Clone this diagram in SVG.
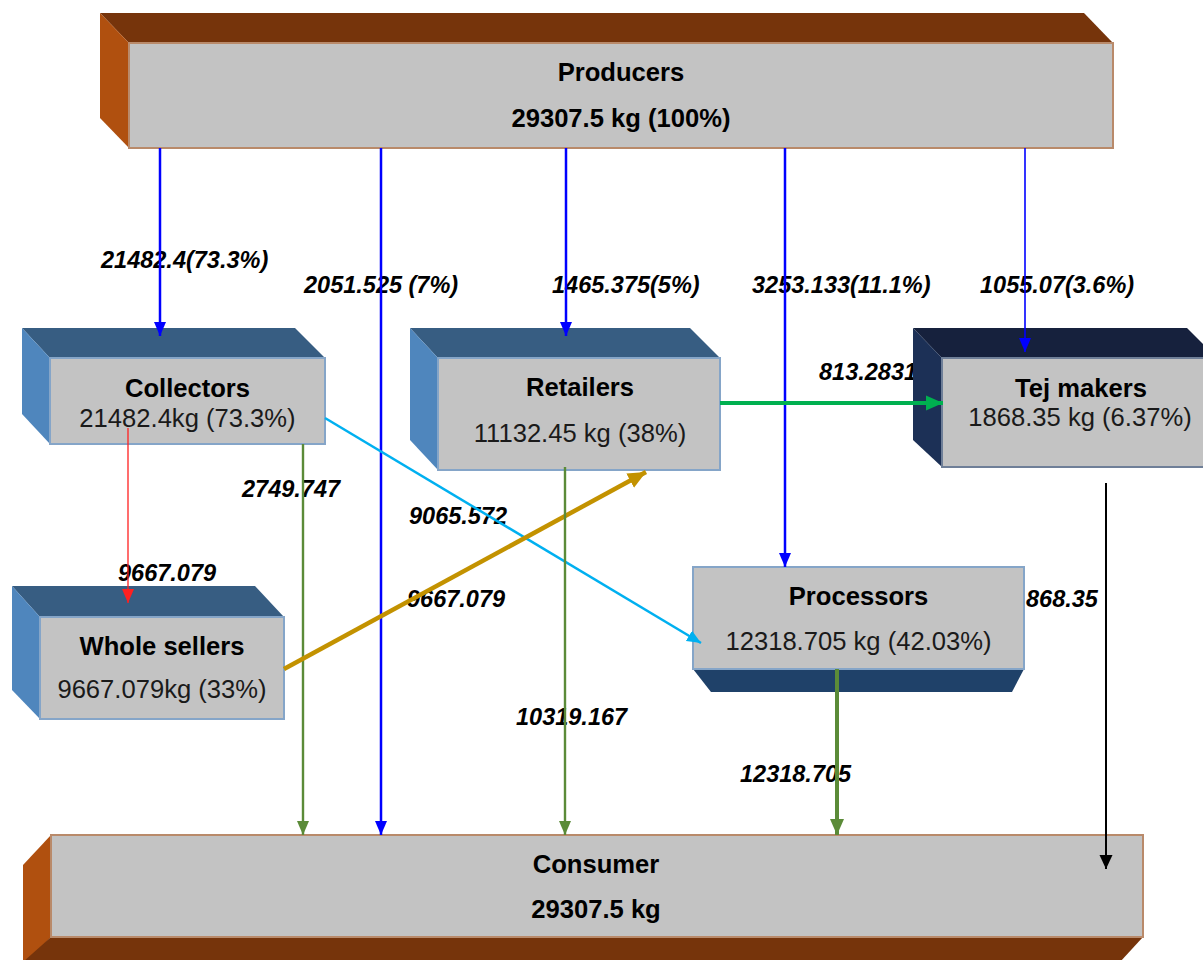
<svg xmlns="http://www.w3.org/2000/svg" width="1203" height="960" viewBox="0 0 1203 960">
<style>
.bg{fill:#ffffff}
.face{fill:#c3c3c3;stroke:#85a5c8;stroke-width:2}
.bface{fill:#c3c3c3;stroke:#b98a6a;stroke-width:2}
.tface{fill:#c3c3c3;stroke:#6f7f98;stroke-width:2}
.btop{fill:#375d82}
.bside{fill:#4f86bd}
.ntop{fill:#16213d}
.nside{fill:#1c3056}
.brtop{fill:#76340b}
.brside{fill:#b0500f}
.pbot{fill:#1f4169}
.title{font-family:"Liberation Sans",Arial,sans-serif;font-weight:bold;font-size:25.6px;fill:#000;text-anchor:middle}
.val{font-family:"Liberation Sans",Arial,sans-serif;font-size:25.6px;fill:#1a1a1a;text-anchor:middle}
.lbl{font-family:"Liberation Sans",Arial,sans-serif;font-weight:bold;font-style:italic;font-size:23.5px;fill:#000}
.c{fill:none}
</style>
<defs>
<marker id="mBlue" markerUnits="userSpaceOnUse" markerWidth="14" markerHeight="14" viewBox="0 0 14 14" refX="14" refY="7" orient="auto"><path d="M0,1 L14,7 L0,13 Z" fill="#0000ff"/></marker>
<marker id="mRed" markerUnits="userSpaceOnUse" markerWidth="14" markerHeight="14" viewBox="0 0 14 14" refX="14" refY="7" orient="auto"><path d="M0,1 L14,7 L0,13 Z" fill="#ff2020"/></marker>
<marker id="mOlive" markerUnits="userSpaceOnUse" markerWidth="14" markerHeight="14" viewBox="0 0 14 14" refX="14" refY="7" orient="auto"><path d="M0,1 L14,7 L0,13 Z" fill="#5b8b38"/></marker>
<marker id="mOliveB" markerUnits="userSpaceOnUse" markerWidth="16" markerHeight="16" viewBox="0 0 16 16" refX="16" refY="8" orient="auto"><path d="M0,1 L16,8 L0,15 Z" fill="#5b8b38"/></marker>
<marker id="mCyan" markerUnits="userSpaceOnUse" markerWidth="14" markerHeight="14" viewBox="0 0 14 14" refX="14" refY="7" orient="auto"><path d="M0,1 L14,7 L0,13 Z" fill="#00b0f0"/></marker>
<marker id="mGold" markerUnits="userSpaceOnUse" markerWidth="18" markerHeight="18" viewBox="0 0 18 18" refX="18" refY="9" orient="auto"><path d="M0,1 L18,9 L0,17 Z" fill="#c39200"/></marker>
<marker id="mGreen" markerUnits="userSpaceOnUse" markerWidth="17" markerHeight="17" viewBox="0 0 17 17" refX="17" refY="8.5" orient="auto"><path d="M0,1 L17,8.5 L0,16 Z" fill="#00b050"/></marker>
<marker id="mBlack" markerUnits="userSpaceOnUse" markerWidth="14" markerHeight="14" viewBox="0 0 14 14" refX="14" refY="7" orient="auto"><path d="M0,0.5 L14,7 L0,13.5 Z" fill="#000000"/></marker>
</defs>
<rect class="bg" x="0" y="0" width="1203" height="960"/>

<g id="labels">
<text class="lbl" x="101" y="268">21482.4(73.3%)</text>
<text class="lbl" x="304" y="293">2051.525 (7%)</text>
<text class="lbl" x="552" y="293">1465.375(5%)</text>
<text class="lbl" x="752" y="293">3253.133(11.1%)</text>
<text class="lbl" x="980" y="293">1055.07(3.6%)</text>
<text class="lbl" x="819" y="380">813.2831</text>
<text class="lbl" x="242" y="497">2749.747</text>
<text class="lbl" x="409" y="524">9065.572</text>
<text class="lbl" x="118" y="581">9667.079</text>
<text class="lbl" x="407" y="607">9667.079</text>
<text class="lbl" x="1026" y="607">868.35</text>
<text class="lbl" x="516" y="725">10319.167</text>
<text class="lbl" x="740" y="782">12318.705</text>
</g>

<g id="producers">
<polygon class="brtop" points="100,13 1084,13 1113,43 129,43"/>
<polygon class="brside" points="100,13 129,43 129,148 100,118"/>
<rect class="bface" x="129" y="43" width="984" height="105"/>
<text class="title" x="621" y="81">Producers</text>
<text class="title" x="621" y="127">29307.5 kg (100%)</text>
</g>

<g id="collectors">
<polygon class="btop" points="22,328 295,328 325,358 50,358"/>
<polygon class="bside" points="22,328 50,358 50,444 22,414"/>
<rect class="face" x="50" y="358" width="275" height="86"/>
<text class="title" x="187.5" y="397">Collectors</text>
<text class="val" x="187.5" y="427">21482.4kg (73.3%)</text>
</g>

<g id="retailers">
<polygon class="btop" points="410,328 690,328 720,358 438,358"/>
<polygon class="bside" points="410,328 438,358 438,470 410,440"/>
<rect class="face" x="438" y="358" width="282" height="112"/>
<text class="title" x="580" y="396">Retailers</text>
<text class="val" x="580" y="442">11132.45 kg (38%)</text>
</g>

<g id="tej-makers">
<polygon class="ntop" points="913,328 1187,328 1217,358 942,358"/>
<polygon class="nside" points="913,328 942,358 942,467 913,440"/>
<rect class="tface" x="942" y="358" width="275" height="109"/>
<text class="title" x="1081" y="397">Tej makers</text>
<text class="val" x="1080" y="426">1868.35 kg (6.37%)</text>
</g>

<g id="whole-sellers">
<polygon class="btop" points="12,586 255,586 284,617 40,617"/>
<polygon class="bside" points="12,586 40,617 40,719 12,690"/>
<rect class="face" x="40" y="617" width="244" height="102"/>
<text class="title" x="162" y="655">Whole sellers</text>
<text class="val" x="162" y="698">9667.079kg (33%)</text>
</g>

<g id="processors">
<polygon class="pbot" points="693,669 1024,669 1012,692 711,692"/>
<rect class="face" x="693" y="567" width="331" height="102"/>
<text class="title" x="858.5" y="605">Processors</text>
<text class="val" x="858.5" y="650">12318.705 kg (42.03%)</text>
</g>

<g id="consumer">
<polygon class="brside" points="23,865 51,835 51,937 23,967"/>
<polygon class="brtop" points="51,937 1143,937 1120,962 23,962"/>
<rect class="bface" x="51" y="835" width="1092" height="102"/>
<text class="title" x="596" y="873">Consumer</text>
<text class="title" x="596" y="918">29307.5 kg</text>
</g>

<g id="connectors">
<line class="c" x1="160" y1="148" x2="160" y2="336" stroke="#0000ff" stroke-width="2.5" marker-end="url(#mBlue)"/>
<line class="c" x1="381" y1="148" x2="381" y2="835" stroke="#0000ff" stroke-width="2.5" marker-end="url(#mBlue)"/>
<line class="c" x1="566" y1="148" x2="566" y2="336" stroke="#0000ff" stroke-width="2.5" marker-end="url(#mBlue)"/>
<line class="c" x1="785" y1="148" x2="785" y2="567" stroke="#0000ff" stroke-width="2.5" marker-end="url(#mBlue)"/>
<line class="c" x1="1025" y1="148" x2="1025" y2="352" stroke="#0000ff" stroke-width="1.6" marker-end="url(#mBlue)"/>
<line class="c" x1="128" y1="428" x2="128" y2="603" stroke="#ff2020" stroke-width="1.3" marker-end="url(#mRed)"/>
<line class="c" x1="303" y1="444" x2="303" y2="835" stroke="#5b8b38" stroke-width="2.4" marker-end="url(#mOlive)"/>
<line class="c" x1="325" y1="418" x2="701" y2="643" stroke="#00b0f0" stroke-width="2.5" marker-end="url(#mCyan)"/>
<line class="c" x1="284" y1="669" x2="646" y2="472" stroke="#c39200" stroke-width="4.5" marker-end="url(#mGold)"/>
<line class="c" x1="720" y1="403" x2="943" y2="403" stroke="#00b050" stroke-width="4" marker-end="url(#mGreen)"/>
<line class="c" x1="565" y1="467" x2="565" y2="835" stroke="#5b8b38" stroke-width="2.4" marker-end="url(#mOlive)"/>
<line class="c" x1="837" y1="669" x2="837" y2="835" stroke="#5b8b38" stroke-width="4" marker-end="url(#mOliveB)"/>
<line class="c" x1="1106" y1="483" x2="1106" y2="869" stroke="#000000" stroke-width="2" marker-end="url(#mBlack)"/>
</g>
</svg>
